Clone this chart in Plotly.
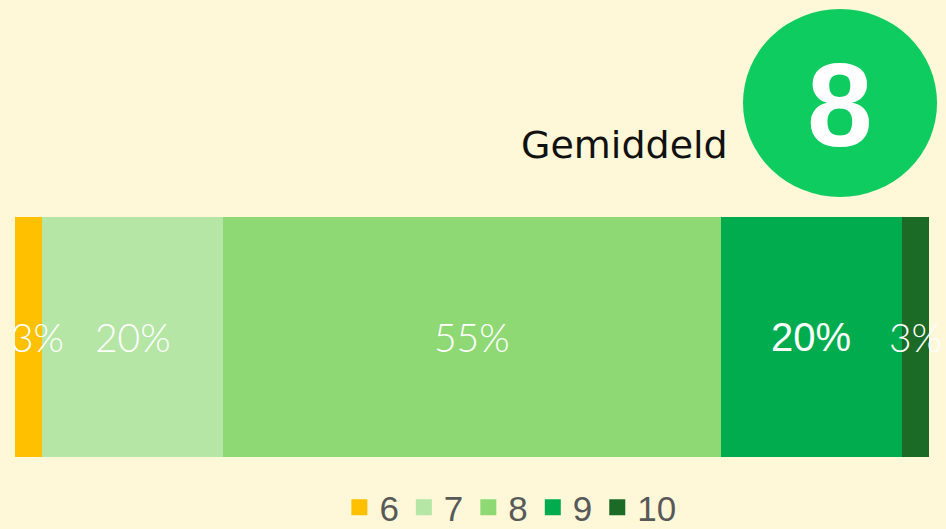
import plotly.graph_objects as go

categories = ["6", "7", "8", "9", "10"]
percentages = [3, 20, 55, 20, 3]
colors = ["#FFC000", "#B5E6A5", "#8FD974", "#00AC4E", "#1B6B26"]
average_label = "8"
average_text = "Gemiddeld"

BG = "#FEF8D8"
fig = go.Figure()
for cat, val, col in zip(categories, percentages, colors):
    fig.add_trace(go.Bar(
        x=[val], y=["score"], orientation="h", name=cat,
        marker=dict(color=col, line=dict(width=0)),
        hoverinfo="skip", showlegend=False,
    ))
# legend entries (square markers)
for cat, col in zip(categories, colors):
    fig.add_trace(go.Scatter(
        x=[None], y=[None], mode="markers", name=cat,
        marker=dict(symbol="square", size=20, color=col),
        hoverinfo="skip", showlegend=True,
    ))

# percentage labels centred on each segment
cum = 0
for i, (cat, val) in enumerate(zip(categories, percentages)):
    mid = cum + val / 2
    cum += val
    if cat == "9":
        tf = dict(color="white", size=40, family="Liberation Sans, Arial")
    else:
        tf = dict(color="white", size=39, family="Lato", weight=300)
    fig.add_annotation(x=mid, y="score", text=f"{val}%", showarrow=False,
                       xanchor="center", yanchor="middle", font=tf,
                       xshift=9 if i == 0 else 0)

fig.update_layout(
    barmode="stack", bargap=0,
    width=946, height=529,
    margin=dict(l=15, r=17, t=217, b=72, autoexpand=False),
    paper_bgcolor=BG, plot_bgcolor=BG,
    xaxis=dict(visible=False, range=[0, sum(percentages)], fixedrange=True),
    yaxis=dict(visible=False, fixedrange=True),
    showlegend=True,
    legend=dict(orientation="h", x=0.542, xanchor="center", yref="paper",
                y=-0.21, yanchor="middle", bgcolor="rgba(0,0,0,0)",
                font=dict(size=35, color="#595959", family="Liberation Sans, Arial"),
                traceorder="normal", itemsizing="trace"),
)

fig.add_shape(type="circle", xref="paper", yref="paper",
              x0=0.7965, x1=1.0088, y0=1.0833, y1=1.8667,
              fillcolor="#0ECC5F", line=dict(width=0), layer="above")
fig.add_annotation(text=f"<b>{average_label}</b>", xref="paper", yref="paper",
                   x=0.9026, y=1.4667, showarrow=False, xanchor="center", yanchor="middle",
                   font=dict(size=118, color="white", family="Liberation Sans, Arial"))
fig.add_annotation(text=average_text, xref="paper", yref="paper",
                   x=0.7823, y=1.30, showarrow=False, xanchor="right", yanchor="middle",
                   font=dict(size=38, color="#111111", family="DejaVu Sans"))

fig.write_html("out.html", config={"displayModeBar": False},
               post_script="document.body.style.margin='0';document.body.style.background='" + BG + "';")
